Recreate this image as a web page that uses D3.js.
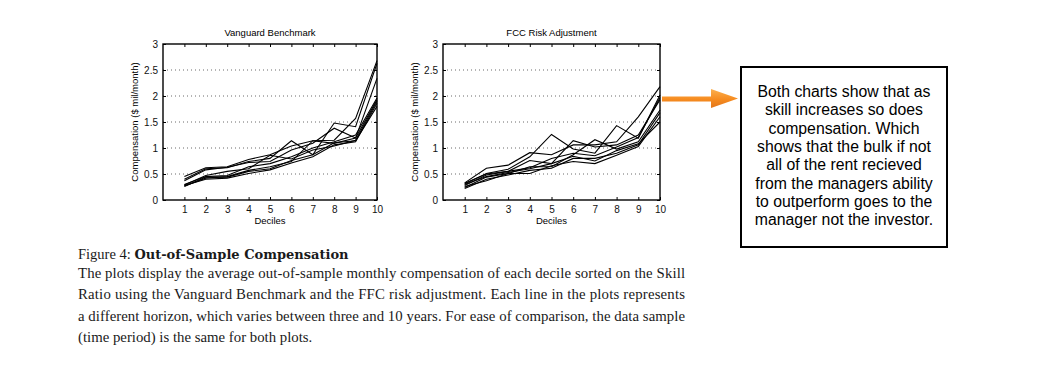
<!DOCTYPE html>
<html>
<head>
<meta charset="utf-8">
<script src="https://cdn.jsdelivr.net/npm/d3@7"></script>
<style>
  body { margin: 0; background: #fff; }
  svg text { font-family: "Liberation Sans", Arial, sans-serif; }
  .cap { font-family: "Liberation Serif", "Times New Roman", serif; fill: #1a1a1a; }
</style>
</head>
<body>
<div id="chart-area"></div>
<script>
const deciles = [1, 2, 3, 4, 5, 6, 7, 8, 9, 10];
const yTicks = [0, 0.5, 1, 1.5, 2, 2.5, 3];

// one line per horizon (3..10 years)
const vanguardSeries = [
  [0.45, 0.62, 0.64, 0.78, 0.87, 1.04, 1.14, 1.15, 1.57, 2.68],
  [0.40, 0.60, 0.62, 0.74, 0.80, 1.14, 0.87, 1.48, 1.41, 2.63],
  [0.37, 0.58, 0.63, 0.72, 0.74, 0.96, 1.09, 1.38, 1.19, 2.34],
  [0.30, 0.45, 0.47, 0.64, 0.70, 0.83, 1.00, 1.12, 1.25, 1.96],
  [0.27, 0.42, 0.45, 0.57, 0.64, 0.74, 1.14, 1.09, 1.19, 1.93],
  [0.28, 0.40, 0.42, 0.51, 0.58, 0.71, 0.83, 1.06, 1.12, 1.86],
  [0.26, 0.44, 0.44, 0.55, 0.60, 0.76, 0.87, 1.10, 1.14, 1.80],
  [0.29, 0.47, 0.55, 0.60, 0.86, 0.79, 0.96, 1.04, 1.15, 1.90]
];

const fccSeries = [
  [0.33, 0.61, 0.67, 0.91, 0.87, 1.06, 1.06, 1.12, 1.60, 2.18],
  [0.31, 0.51, 0.59, 0.83, 1.26, 0.98, 0.90, 1.43, 1.19, 2.02],
  [0.28, 0.48, 0.55, 0.76, 0.70, 1.14, 1.02, 1.06, 1.25, 1.93],
  [0.24, 0.44, 0.51, 0.64, 0.64, 0.87, 1.16, 0.98, 1.12, 1.73],
  [0.22, 0.40, 0.48, 0.57, 0.61, 0.80, 0.80, 0.90, 1.06, 1.68],
  [0.26, 0.37, 0.51, 0.51, 0.66, 0.74, 0.70, 0.86, 1.03, 1.60],
  [0.30, 0.45, 0.53, 0.60, 0.70, 0.84, 0.75, 0.95, 1.08, 1.50],
  [0.32, 0.50, 0.55, 0.62, 0.80, 0.90, 0.85, 1.02, 1.20, 1.97]
];

const chartTitles = ['Vanguard Benchmark', 'FCC Risk Adjustment'];
const yLabel = 'Compensation ($ mil/month)';
const xLabel = 'Deciles';

const noteLines = [
  'Both charts show that as',
  'skill increases so does',
  'compensation.  Which',
  'shows that the bulk if not',
  'all of the rent recieved',
  'from the managers ability',
  'to outperform goes to the',
  'manager not the investor.'
];

const captionBody = [
  'The plots display the average out-of-sample monthly compensation of each decile sorted on the Skill',
  'Ratio using the Vanguard Benchmark and the FFC risk adjustment.  Each line in the plots represents',
  'a different horizon, which varies between three and 10 years.  For ease of comparison, the data sample',
  '(time period) is the same for both plots.'
];

const svg = d3.select('#chart-area').append('svg')
  .attr('width', 1040)
  .attr('height', 387);

const plotH = 156;

const drawPanel = (left, width, title, series) => {
  const g = svg.append('g').attr('transform', `translate(${left},44)`);

  const x = d3.scaleLinear().domain([0, 10]).range([0, width]);
  const y = d3.scaleLinear().domain([0, 3]).range([plotH, 0]);

  // dotted grid
  g.selectAll('.grid')
    .data(yTicks.filter(t => t > 0 && t < 3))
    .join('line')
    .attr('x1', 0).attr('x2', width)
    .attr('y1', d => y(d)).attr('y2', d => y(d))
    .attr('stroke', '#444')
    .attr('stroke-width', 0.8)
    .attr('stroke-dasharray', '1,3');

  const line = d3.line()
    .x((d, i) => x(deciles[i]))
    .y(d => y(d));

  g.selectAll('.series')
    .data(series)
    .join('path')
    .attr('d', line)
    .attr('fill', 'none')
    .attr('stroke', '#000')
    .attr('stroke-width', 1.1);

  // axes: ticks pointing inward, labels outside
  const yAxis = d3.axisLeft(y).tickValues(yTicks).tickSize(-3).tickPadding(5)
    .tickFormat(d3.format('~g'));
  const xAxis = d3.axisBottom(x).tickValues(deciles).tickSize(-3).tickPadding(6);

  const ya = g.append('g').call(yAxis);
  const xa = g.append('g').attr('transform', `translate(0,${plotH})`).call(xAxis);
  g.append('g').attr('transform', `translate(${width},0)`)
    .call(d3.axisRight(y).tickValues(yTicks).tickSize(-3).tickFormat(''));
  g.append('g')
    .call(d3.axisTop(x).tickValues(deciles).tickSize(-3).tickFormat(''));

  g.selectAll('.domain').remove();
  g.selectAll('.tick line').attr('stroke', '#000');
  [ya, xa].forEach(a => a.selectAll('text')
    .attr('font-size', 10)
    .attr('fill', '#111')
    .style('font-family', '"Liberation Sans", Arial, sans-serif'));

  g.append('rect')
    .attr('width', width).attr('height', plotH)
    .attr('fill', 'none')
    .attr('stroke', '#000')
    .attr('stroke-width', 1.4);

  g.append('text')
    .attr('x', width / 2).attr('y', -8)
    .attr('text-anchor', 'middle')
    .attr('font-size', 9.5)
    .text(title);

  g.append('text')
    .attr('x', width / 2).attr('y', plotH + 24)
    .attr('text-anchor', 'middle')
    .attr('font-size', 9.5)
    .text(xLabel);

  g.append('text')
    .attr('transform', 'rotate(-90)')
    .attr('x', -plotH / 2).attr('y', -25)
    .attr('text-anchor', 'middle')
    .attr('font-size', 9.5)
    .text(yLabel);
};

drawPanel(163, 214, chartTitles[0], vanguardSeries);
drawPanel(443, 217, chartTitles[1], fccSeries);

// orange arrow
const defs = svg.append('defs');
const grad = defs.append('linearGradient').attr('id', 'arrowGrad')
  .attr('x1', 0).attr('x2', 0).attr('y1', 0).attr('y2', 1);
grad.append('stop').attr('offset', '0%').attr('stop-color', '#fbb04f');
grad.append('stop').attr('offset', '55%').attr('stop-color', '#f68b1f');
grad.append('stop').attr('offset', '100%').attr('stop-color', '#e2761a');

svg.append('path')
  .attr('d', 'M662,96.5 L711,96.5 L711,89 L738,98.5 L711,108 L711,101.5 L662,101.5 Z')
  .attr('fill', 'url(#arrowGrad)');

// note box
svg.append('rect')
  .attr('x', 741).attr('y', 67)
  .attr('width', 206).attr('height', 180)
  .attr('fill', '#fff')
  .attr('stroke', '#000')
  .attr('stroke-width', 2);

svg.append('g').selectAll('text')
  .data(noteLines)
  .join('text')
  .attr('x', 844)
  .attr('y', (d, i) => 97 + i * 18.3)
  .attr('text-anchor', 'middle')
  .attr('font-size', 15.8)
  .attr('fill', '#000')
  .text(d => d);

// caption
const capTitle = svg.append('text').attr('class', 'cap')
  .attr('x', 78).attr('y', 259).attr('font-size', 14.5);
capTitle.append('tspan').text('Figure 4: ');
capTitle.append('tspan')
  .attr('font-weight', 'bold')
  .attr('font-size', 13)
  .style('font-family', '"DejaVu Serif", serif')
  .text('Out-of-Sample Compensation');

svg.append('g').selectAll('text')
  .data(captionBody)
  .join('text')
  .attr('class', 'cap')
  .attr('x', 78)
  .attr('y', (d, i) => 278 + i * 21.3)
  .attr('font-size', 14.8)
  .each(function (d, i) {
    if (i < captionBody.length - 1) {
      d3.select(this).attr('textLength', 607).attr('lengthAdjust', 'spacing');
    }
  })
  .text(d => d);
</script>
</body>
</html>
